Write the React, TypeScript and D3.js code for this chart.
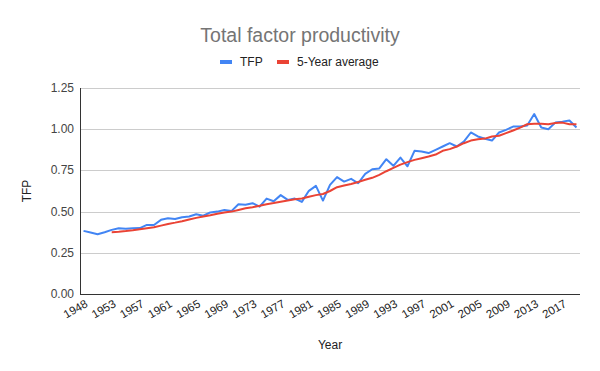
import { useEffect, useRef } from 'react'
import * as d3 from 'd3'

// categories (note: no 1949 in the source data)
const years = [
  1948, 1950, 1951, 1952, 1953, 1954, 1955, 1956, 1957, 1958, 1959, 1960, 1961, 1962, 1963, 1964,
  1965, 1966, 1967, 1968, 1969, 1970, 1971, 1972, 1973, 1974, 1975, 1976, 1977, 1978, 1979, 1980,
  1981, 1982, 1983, 1984, 1985, 1986, 1987, 1988, 1989, 1990, 1991, 1992, 1993, 1994, 1995, 1996,
  1997, 1998, 1999, 2000, 2001, 2002, 2003, 2004, 2005, 2006, 2007, 2008, 2009, 2010, 2011, 2012,
  2013, 2014, 2015, 2016, 2017, 2018, 2019,
]

const tfp = [
  0.383, 0.373, 0.363, 0.375, 0.389, 0.399, 0.396, 0.399, 0.4, 0.419, 0.419, 0.45, 0.46, 0.455,
  0.466, 0.47, 0.484, 0.475, 0.495, 0.5, 0.51, 0.503, 0.545, 0.541, 0.551, 0.53, 0.579, 0.563, 0.6,
  0.571, 0.579, 0.559, 0.626, 0.656, 0.567, 0.662, 0.709, 0.682, 0.699, 0.672, 0.729, 0.757, 0.762,
  0.818, 0.778, 0.828, 0.775, 0.869, 0.865, 0.855, 0.875, 0.895, 0.915, 0.895, 0.925, 0.98, 0.956,
  0.942, 0.931, 0.98, 0.996, 1.016, 1.016, 1.023, 1.092, 1.01, 1.0, 1.04, 1.046, 1.053, 1.01,
]

const avg5: (number | null)[] = [
  null, null, null, null, 0.375, 0.378, 0.382, 0.387, 0.393, 0.399, 0.405, 0.415, 0.425, 0.433,
  0.442, 0.452, 0.462, 0.47, 0.478, 0.487, 0.495, 0.5, 0.51, 0.52, 0.527, 0.535, 0.545, 0.552, 0.56,
  0.567, 0.575, 0.58, 0.59, 0.6, 0.607, 0.625, 0.648, 0.658, 0.668, 0.68, 0.693, 0.705, 0.723, 0.745,
  0.765, 0.785, 0.8, 0.814, 0.824, 0.834, 0.846, 0.869, 0.879, 0.895, 0.915, 0.931, 0.939, 0.943,
  0.956, 0.96, 0.976, 0.992, 1.01, 1.03, 1.033, 1.033, 1.03, 1.037, 1.04, 1.03, 1.03,
]

const yTicks = [0, 0.25, 0.5, 0.75, 1, 1.25]

export default function App() {
  const svgRef = useRef<SVGSVGElement>(null)

  useEffect(() => {
    const W = 600,
      H = 371
    const margin = { top: 88, right: 20, bottom: 77, left: 80 }
    const width = W - margin.left - margin.right,
      height = H - margin.top - margin.bottom
    const font = 'Arial, "Liberation Sans", sans-serif'

    const svg = d3.select(svgRef.current)
    svg.selectAll('*').remove()
    svg.append('rect').attr('width', W).attr('height', H).attr('fill', '#fff')

    const x = d3
      .scaleBand<number>()
      .domain(d3.range(years.length))
      .range([margin.left, margin.left + width])
    const cx = (i: number) => (x(i) as number) + x.bandwidth() / 2
    const y = d3
      .scaleLinear()
      .domain([0, 1.25])
      .range([margin.top + height, margin.top])

    // gridlines + y labels
    const grid = svg.append('g')
    yTicks.forEach((t) => {
      grid
        .append('line')
        .attr('x1', margin.left)
        .attr('x2', margin.left + width)
        .attr('y1', Math.round(y(t)) + 0.5)
        .attr('y2', Math.round(y(t)) + 0.5)
        .attr('stroke', t === 0 ? '#333' : '#ccc')
        .attr('stroke-width', 1)
      grid
        .append('text')
        .attr('x', margin.left - 6)
        .attr('y', y(t) + 4)
        .attr('text-anchor', 'end')
        .attr('font-family', font)
        .attr('font-size', 12)
        .attr('fill', '#444')
        .text(d3.format('.2f')(t))
    })

    svg
      .append('line')
      .attr('x1', margin.left + 0.5)
      .attr('x2', margin.left + 0.5)
      .attr('y1', margin.top)
      .attr('y2', margin.top + height)
      .attr('stroke', '#333')

    // x labels (every 4th category)
    const xl = svg.append('g')
    years.forEach((yr, i) => {
      if (i % 4 !== 0) return
      const px = cx(i) + 5,
        py = margin.top + height + 12
      xl.append('text')
        .attr('transform', `translate(${px},${py}) rotate(-30)`)
        .attr('text-anchor', 'end')
        .attr('font-family', font)
        .attr('font-size', 11.5)
        .attr('fill', '#222')
        .text(yr)
    })

    const line = d3
      .line<number | null>()
      .defined((d) => d !== null)
      .x((_, i) => cx(i))
      .y((d) => y(d as number))

    svg
      .append('path')
      .datum(tfp)
      .attr('fill', 'none')
      .attr('stroke', '#4285f4')
      .attr('stroke-width', 2)
      .attr('stroke-linejoin', 'round')
      .attr('d', line)

    svg
      .append('path')
      .datum(avg5)
      .attr('fill', 'none')
      .attr('stroke', '#ea4335')
      .attr('stroke-width', 2)
      .attr('stroke-linejoin', 'round')
      .attr('d', line)

    // title
    svg
      .append('text')
      .attr('x', 300)
      .attr('y', 42)
      .attr('text-anchor', 'middle')
      .attr('font-family', font)
      .attr('font-size', 19.5)
      .attr('fill', '#757575')
      .text('Total factor productivity')

    // legend
    const legend = [
      { label: 'TFP', color: '#4285f4', x: 220 },
      { label: '5-Year average', color: '#ea4335', x: 277 },
    ]
    legend.forEach((l) => {
      svg
        .append('rect')
        .attr('x', l.x)
        .attr('y', 60)
        .attr('width', 12)
        .attr('height', 4)
        .attr('fill', l.color)
      svg
        .append('text')
        .attr('x', l.x + 20)
        .attr('y', 66)
        .attr('font-family', font)
        .attr('font-size', 12)
        .attr('fill', '#222')
        .text(l.label)
    })

    // axis titles
    svg
      .append('text')
      .attr('x', 330)
      .attr('y', 349)
      .attr('text-anchor', 'middle')
      .attr('font-family', font)
      .attr('font-size', 12)
      .attr('fill', '#222')
      .text('Year')

    svg
      .append('text')
      .attr('transform', `translate(31,${margin.top + height / 2}) rotate(-90)`)
      .attr('text-anchor', 'middle')
      .attr('font-family', font)
      .attr('font-size', 12)
      .attr('fill', '#222')
      .text('TFP')
  }, [])

  return (
    <svg
      ref={svgRef}
      width={600}
      height={371}
      style={{ position: 'absolute', left: 0, top: 0 }}
    />
  )
}
